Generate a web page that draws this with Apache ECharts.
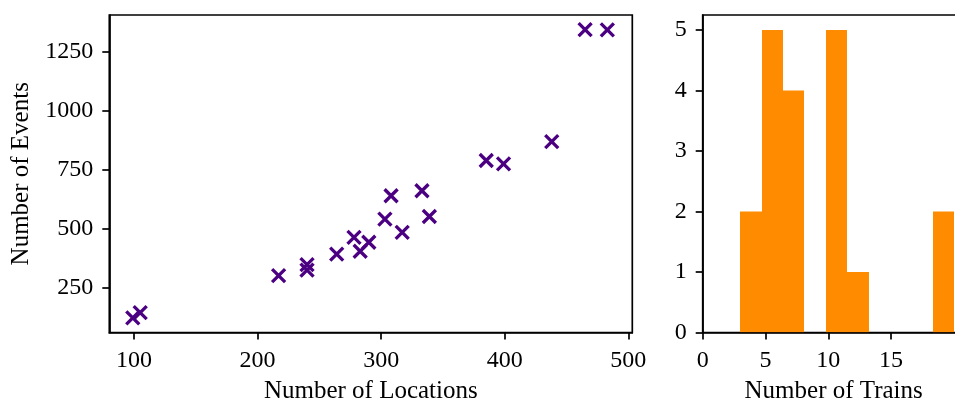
<!DOCTYPE html>
<html>
<head>
<meta charset="utf-8">
<script src="https://cdn.jsdelivr.net/npm/echarts@6/dist/echarts.min.js"></script>
<style>html,body{margin:0;padding:0;background:#fff}#c{width:955px;height:400px}</style>
</head>
<body>
<div id="c"></div>
<script>
// Scatter: number of locations vs number of events
const locations = [99, 105, 217, 240, 240, 264, 278, 283, 290, 303, 308, 317, 333, 339, 385, 399, 438, 465, 483];
const events    = [123, 145, 302, 348, 325, 393, 464, 405, 443, 541, 640, 485, 661, 552, 789, 775, 869, 1343, 1342];
// Histogram: number of trains
const binEdges = [3, 4.7, 6.4, 8.1, 9.8, 11.5, 13.2, 14.9, 16.6, 18.3, 20];
const binCounts = [2, 5, 4, 0, 5, 1, 0, 0, 0, 2];
// Tick labels
const scatterXTicks = [100, 200, 300, 400, 500];
const scatterYTicks = [250, 500, 750, 1000, 1250];
const histXTicks = [0, 5, 10, 15];
const histYTicks = [0, 1, 2, 3, 4, 5];

const FONT = '"Liberation Serif", "DejaVu Serif", serif';
const tickFont = { fontFamily: FONT, fontSize: 24, color: '#000' };
const nameFont = { fontFamily: FONT, fontSize: 25, color: '#000' };
const LW = 1.7;

function axisCommon(ticks, extra) {
  return Object.assign({
    type: 'value',
    z: 5,
    axisLine: { show: true, onZero: false, lineStyle: { color: '#000', width: LW } },
    axisTick: { show: true, inside: false, length: 7, lineStyle: { color: '#000', width: LW }, customValues: ticks },
    axisLabel: Object.assign({ margin: 16, customValues: ticks, showMinLabel: true, showMaxLabel: true,
      formatter: function (v) { return String(v); } }, tickFont),
    splitLine: { show: false },
    nameTextStyle: nameFont
  }, extra);
}

const histData = binCounts.map((c, i) => [binEdges[i], binEdges[i + 1], c]);
const scatterData = locations.map((x, i) => [x, events[i]]);

const chart = echarts.init(document.getElementById('c'), null, { renderer: 'canvas' });
chart.setOption({
  backgroundColor: '#fff',
  animation: false,
  grid: [
    { left: 109.3, top: 15, right: 322.7, bottom: 67.5, containLabel: false, outerBoundsMode: 'none',
      show: true, borderColor: '#000', borderWidth: LW, backgroundColor: 'transparent' },
    { left: 702.7, top: 15, right: -9.6, bottom: 67.5, containLabel: false, outerBoundsMode: 'none',
      show: true, borderColor: '#000', borderWidth: LW, backgroundColor: 'transparent' }
  ],
  xAxis: [
    axisCommon(scatterXTicks, { gridIndex: 0, min: 80, max: 503.2, name: 'Number of Locations', nameLocation: 'middle', nameGap: 46 }),
    axisCommon(histXTicks, { gridIndex: 1, min: 0, max: 20.85, name: 'Number of Trains', nameLocation: 'middle', nameGap: 46 })
  ],
  yAxis: [
    axisCommon(scatterYTicks, { gridIndex: 0, min: 61, max: 1405, name: 'Number of Events', nameLocation: 'middle', nameGap: 72, nameRotate: 90 }),
    axisCommon(histYTicks, { gridIndex: 1, min: 0, max: 5.25 })
  ],
  series: [
    {
      type: 'scatter',
      xAxisIndex: 0, yAxisIndex: 0,
      data: scatterData,
      symbol: 'path://M0 0L10 10M10 0L0 10',
      symbolSize: 13,
      itemStyle: { color: 'none', borderColor: '#4b0082', borderWidth: 3.3, opacity: 1 },
      emphasis: { disabled: true }
    },
    {
      type: 'custom',
      xAxisIndex: 1, yAxisIndex: 1,
      data: histData,
      encode: { x: [0, 1], y: 2 },
      renderItem: function (params, api) {
        const p0 = api.coord([api.value(0), 0]);
        const p1 = api.coord([api.value(1), api.value(2)]);
        const x0 = Math.round(p0[0]), x1 = Math.round(p1[0]);
        return {
          type: 'rect',
          shape: { x: x0, y: p1[1], width: x1 - x0, height: p0[1] - p1[1] },
          style: { fill: '#ff8c00' }
        };
      }
    }
  ]
});
</script>
</body>
</html>
